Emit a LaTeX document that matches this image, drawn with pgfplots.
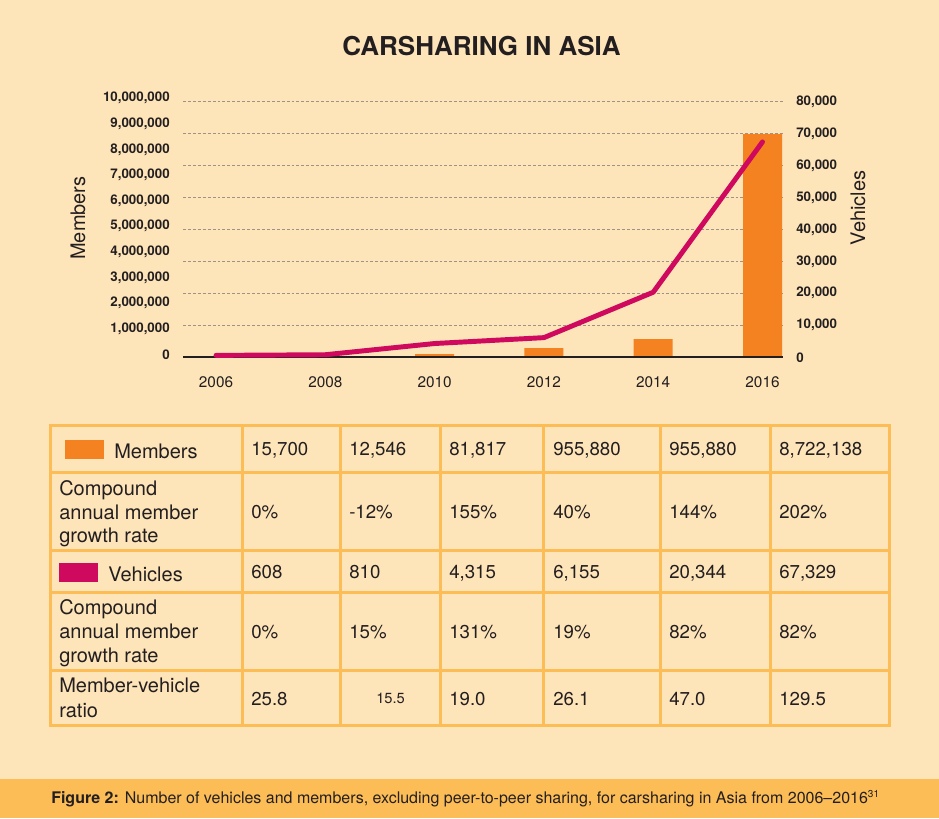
\documentclass[border=0pt]{standalone}
\usepackage{fontspec}
\setmainfont{TeX Gyre Heros}
\usepackage{pgfplots}
\pgfplotsset{compat=1.18}
\definecolor{cream}{HTML}{FEE4B9}
\definecolor{amber}{HTML}{FDBD56}
\definecolor{barorange}{HTML}{F58220}
\definecolor{vehline}{HTML}{CF0A5E}
\definecolor{ink}{HTML}{231F20}
\definecolor{gridgray}{HTML}{9C9285}

\pgfplotsset{
  panel/.style={
    scale only axis, width=450pt, height=192pt,
    at={(137.25pt,345.5pt)}, anchor=south west,
    xmin=2005.396, xmax=2016.375, ymin=0,
    axis line style={draw=none}, tick style={draw=none},
    scaled y ticks=false,
    /pgf/number format/assume math mode=true,
    /pgf/number format/fixed,
    /pgf/number format/1000 sep={,},
  },
}

\begin{document}
\begin{tikzpicture}[x=0.75pt,y=0.75pt]
% background and caption strip
\fill[cream] (0,0) rectangle (939,818);
\fill[amber] (0,0) rectangle (939,39);
\node[font=\bfseries\fontsize{19.5}{23}\selectfont, text=ink] at (481.5,772) {CARSHARING IN ASIA};

% right axis: grid + vehicle tick labels
\begin{axis}[panel, ymax=80000,
  xtick=\empty,
  ytick={0,10000,...,80000},
  yticklabel pos=right,
  ymajorgrids,
  grid style={gridgray, line width=0.5pt, dash pattern=on 2.2pt off 1.5pt},
  yticklabel style={font=\bfseries\fontsize{10}{12}\selectfont, text=ink,
    anchor=west, inner sep=0pt, xshift=9.75pt},
]
\addplot[draw=none] coordinates {(2006,0)};
\end{axis}

% left axis: members as bars
\begin{axis}[panel, ymax=10000000,
  xtick=\empty,
  ytick={0,1000000,...,10000000},
  yticklabel style={font=\bfseries\fontsize{10}{12}\selectfont, text=ink,
    anchor=east, inner sep=0pt, xshift=-9.75pt, yshift=2.25pt},
]
\addplot[ybar, bar width=0.714, fill=barorange, draw=none] coordinates {
  (2006,15700) (2008,12546) (2010,125000) (2012,360000) (2014,710000) (2016,8722138)};
\draw[ink, line width=1.6pt] (rel axis cs:0,0) -- (rel axis cs:1,0);
\end{axis}

% vehicles as a line, plus year labels
\begin{axis}[panel, ymax=80000,
  ytick=\empty,
  xtick={2006,2008,2010,2012,2014,2016},
  xticklabels={2006,2008,2010,2012,2014,2016},
  xticklabel style={font=\fontsize{11.5}{13}\selectfont, text=ink,
    anchor=north, inner sep=0pt, yshift=-14.5pt},
  clip=false,
]
\addplot[vehline, line width=3.7pt, line cap=round, line join=round] coordinates {
  (2006,608) (2008,810) (2010,4315) (2012,6155) (2014,20344) (2016,67329)};
\end{axis}

% axis titles
\node[rotate=90, font=\fontsize{15}{18}\selectfont, text=ink] at (78,600) {Members};
\node[rotate=90, font=\fontsize{15}{18}\selectfont, text=ink] at (858,610) {Vehicles};

% table
\begin{scope}[amber, line width=2.25pt]
\draw (50,392) rectangle (889,93);
\foreach \yy in {345,267,225,147} \draw (50,\yy) -- (889,\yy);
\foreach \xx in {242,340,440,543,660,770} \draw (\xx,392) -- (\xx,93);
\end{scope}
\fill[barorange] (65,378) rectangle (104,359);
\fill[vehline] (59,255) rectangle (98,236);

\begin{scope}[every node/.style={anchor=base west, inner sep=0pt, text=ink,
    font=\fontsize{14}{16}\selectfont}]
\begin{scope}[every node/.append style={font=\fontsize{15}{17}\selectfont}]
\node at (114,359) {Members};
\node at (108,236.3) {Vehicles};
\node at (59,322) {Compound};
\node at (59,298.5) {annual member};
\node at (59,275) {growth rate};
\node at (59,203) {Compound};
\node at (59,179) {annual member};
\node at (59,155) {growth rate};
\node at (59,125) {Member-vehicle};
\node at (59,101) {ratio};
\end{scope}
% members
\node at (251,362) {15,700};
\node at (349,362) {12,546};
\node at (449,362) {81,817};
\node at (553,362) {955,880};
\node at (669,362) {955,880};
\node at (779,362) {8,722,138};
% member growth
\node at (251,299) {0\%};
\node at (349,299) {-12\%};
\node at (449,299) {155\%};
\node at (553,299) {40\%};
\node at (669,299) {144\%};
\node at (779,299) {202\%};
% vehicles
\node at (251,239) {608};
\node at (349,239) {810};
\node at (449,239) {4,315};
\node at (553,239) {6,155};
\node at (669,239) {20,344};
\node at (779,239) {67,329};
% vehicle growth
\node at (251,179) {0\%};
\node at (349,179) {15\%};
\node at (449,179) {131\%};
\node at (553,179) {19\%};
\node at (669,179) {82\%};
\node at (779,179) {82\%};
% ratio
\node at (251,113) {25.8};
\node[font=\fontsize{11}{13}\selectfont] at (376,114) {15.5};
\node at (449,113) {19.0};
\node at (553,113) {26.1};
\node at (669,113) {47.0};
\node at (779,113) {129.5};
\end{scope}

% caption
\node[anchor=base, inner sep=0pt, text=ink, font=\fontsize{12}{14}\selectfont] at (465.5,15)
  {\textbf{Figure 2:} Number of vehicles and members, excluding peer-to-peer sharing, for carsharing in Asia from 2006--2016\textsuperscript{\fontsize{7.5}{9}\selectfont 31}};
\end{tikzpicture}
\end{document}
